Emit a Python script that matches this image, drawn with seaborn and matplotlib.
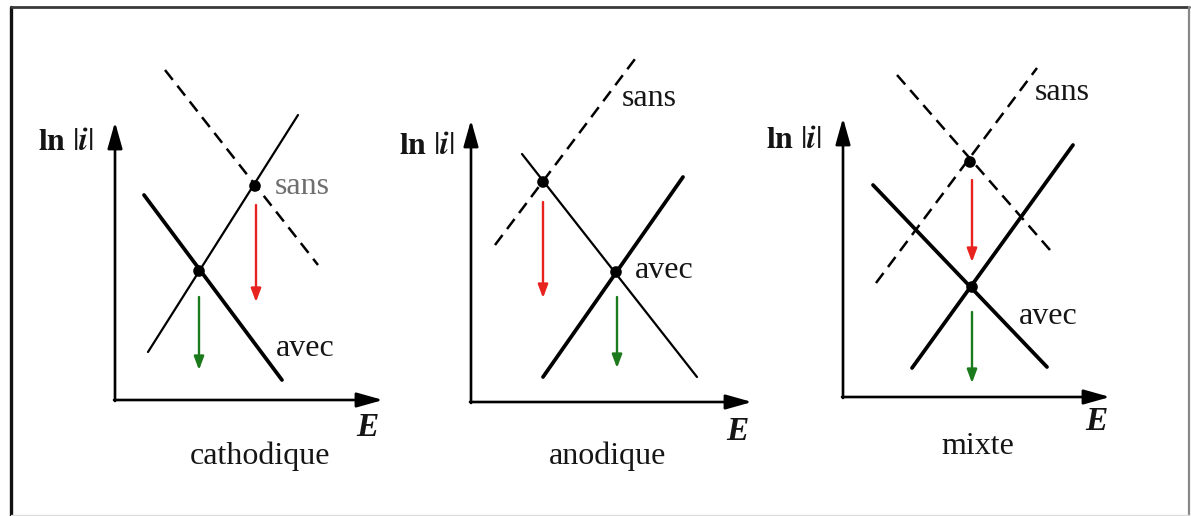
import matplotlib
matplotlib.use("Agg")
import matplotlib.pyplot as plt
import seaborn as sns

sns.set_theme(style="white")
plt.rcParams["font.family"] = ["Liberation Serif", "DejaVu Serif"]
plt.rcParams["mathtext.fontset"] = "stix"

W, H = 1191, 516

# ---- diagram data (pixel space of the figure) ----
panel_titles = ["cathodique", "anodique", "mixte"]

# axes origin / arrow tips per panel
axis_origin_x = [115, 471, 843]
axis_origin_y = [400, 402, 397]
axis_top_y = [122, 120, 118]
axis_right_x = [383, 752, 1110]

# lines: (panel, style, x0, y0, x1, y1)
line_panel = [0, 0, 0, 1, 1, 1, 2, 2, 2, 2]
line_style = ["dash", "thin", "thick", "dash", "thin", "thick", "dash", "dash", "thick", "thick"]
line_x0 = [165, 148, 144, 495, 522, 543, 897, 876, 873, 912]
line_y0 = [70, 352, 195, 245, 154, 377, 75, 283, 185, 368]
line_x1 = [318, 298, 282, 638, 697, 683, 1050, 1037, 1047, 1073]
line_y1 = [265, 115, 380, 55, 377, 177, 250, 68, 367, 145]

# intersection points
point_x = [255, 199, 543, 616, 970, 972]
point_y = [186, 271, 182, 272, 162, 287]

# red arrows (sans -> avec shift)
red_x = [256, 543, 972]
red_y0 = [205, 202, 180]
red_y1 = [302, 298, 262]
# green arrows
green_x = [199, 617, 972]
green_y0 = [297, 297, 312]
green_y1 = [370, 368, 383]

# labels
sans_x = [275, 622, 1035]
sans_y = [186, 99, 92]
avec_x = [276, 635, 1019]
avec_y = [349, 271, 316]
lni_x = [66, 427, 794]
lni_y = [143, 147, 141]
E_x = [367, 737, 1096]
E_y = [428, 432, 422]
title_x = [260, 608, 978]
title_y = [456, 456, 447]

fig = plt.figure(figsize=(W / 100, H / 100), dpi=100)
ax = fig.add_axes([0, 0, 1, 1])
ax.set_xlim(0, W)
ax.set_ylim(H, 0)
ax.set_axis_off()

# frame
kw = dict(ax=ax, sort=False, estimator=None)
sns.lineplot(x=[11, 11], y=[H, 7], color="#111111", lw=2.4, **kw)
sns.lineplot(x=[11, 1189], y=[7, 7], color="#3a3a3a", lw=2.0, **kw)
sns.lineplot(x=[1189, 1189], y=[7, H], color="#888888", lw=1.6, **kw)
sns.lineplot(x=[11, 1189], y=[515, 515], color="#dddddd", lw=1.0, **kw)

styles = {
    "dash": dict(lw=1.8, linestyle=(0, (5, 3.0))),
    "thin": dict(lw=1.6, linestyle="-"),
    "thick": dict(lw=2.7, linestyle="-"),
}
for p, s, x0, y0, x1, y1 in zip(line_panel, line_style, line_x0, line_y0, line_x1, line_y1):
    sns.lineplot(x=[x0, x1], y=[y0, y1], color="black",
                 solid_capstyle="round", dash_capstyle="butt", **kw, **styles[s])

sns.scatterplot(x=point_x, y=point_y, ax=ax, color="black", s=70, edgecolor="none", zorder=5)

# axes with arrows
for ox, oy, ty, rx in zip(axis_origin_x, axis_origin_y, axis_top_y, axis_right_x):
    ap = dict(arrowstyle="-|>,head_length=1.6,head_width=0.45", mutation_scale=10,
              lw=1.9, color="black", shrinkA=0, shrinkB=0)
    ax.annotate("", xy=(ox, ty), xytext=(ox, oy + 1), arrowprops=ap)
    ax.annotate("", xy=(rx, oy), xytext=(ox - 1, oy), arrowprops=ap)

for x, y0, y1 in zip(red_x, red_y0, red_y1):
    ax.annotate("", xy=(x, y1), xytext=(x, y0),
                arrowprops=dict(arrowstyle="-|>,head_length=0.8,head_width=0.3", mutation_scale=10,
                                lw=1.7, color="#e8231f", shrinkA=0, shrinkB=0))
for x, y0, y1 in zip(green_x, green_y0, green_y1):
    ax.annotate("", xy=(x, y1), xytext=(x, y0),
                arrowprops=dict(arrowstyle="-|>,head_length=0.8,head_width=0.3", mutation_scale=10,
                                lw=1.7, color="#1b7a1b", shrinkA=0, shrinkB=0))

txt_color = "#151515"
serif = ["Liberation Serif", "DejaVu Serif"]
for i in range(3):
    sc = "#6e6e6e" if i == 0 else txt_color
    ax.text(sans_x[i], sans_y[i], "sans", fontsize=23, ha="left", va="center", color=sc,
            family=serif)
    ax.text(avec_x[i], avec_y[i], "avec", fontsize=23, ha="left", va="center", color=txt_color,
            family=serif)
    ax.text(lni_x[i], lni_y[i], r"$\mathbf{ln}\ |\mathbfit{i}|$", fontsize=23, ha="center",
            va="center", color=txt_color)
    ax.text(E_x[i], E_y[i], "E", fontsize=24, ha="center", va="center", color=txt_color,
            fontstyle="italic", fontweight="bold", family=serif)
    ax.text(title_x[i], title_y[i], panel_titles[i], fontsize=23, ha="center", va="center",
            color=txt_color, family=serif)

fig.savefig("out.png", dpi=100)
